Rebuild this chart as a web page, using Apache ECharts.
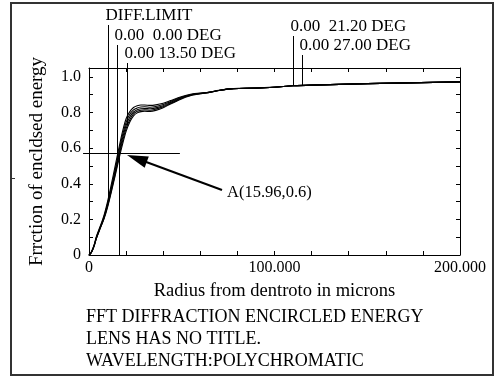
<!DOCTYPE html>
<html><head><meta charset="utf-8">
<script src="https://cdn.jsdelivr.net/npm/echarts@6/dist/echarts.min.js"></script>
<style>html,body{margin:0;padding:0;background:#fff}#c{width:495px;height:377px}</style>
</head><body><div id="c"></div>
<script>
// ---- data ----
const radius    = [0,1,2,3,4,6,8,10,12,14,16,18,20,22,24,26,28,30,33,36,40,44,48,52,56,60,65,70,78,90,100,110,120,150,200];
const diffLimit = [0,0.012,0.035,0.065,0.105,0.16,0.22,0.30,0.395,0.495,0.595,0.69,0.765,0.805,0.828,0.838,0.842,0.842,0.84,0.843,0.852,0.867,0.883,0.896,0.905,0.909,0.915,0.925,0.935,0.938,0.943,0.95,0.954,0.962,0.972];
const field0    = [0,0.011,0.032,0.062,0.1,0.155,0.212,0.288,0.378,0.475,0.575,0.67,0.745,0.79,0.815,0.826,0.831,0.832,0.83,0.834,0.845,0.862,0.879,0.893,0.903,0.908,0.914,0.924,0.934,0.937,0.942,0.95,0.954,0.962,0.972];
const field13   = [0,0.01,0.03,0.06,0.097,0.152,0.207,0.28,0.368,0.462,0.56,0.652,0.727,0.775,0.803,0.816,0.821,0.823,0.821,0.826,0.838,0.857,0.875,0.891,0.901,0.907,0.913,0.924,0.934,0.937,0.942,0.95,0.954,0.962,0.972];
const field21   = [0,0.01,0.03,0.059,0.095,0.15,0.203,0.274,0.36,0.45,0.546,0.635,0.71,0.76,0.792,0.807,0.813,0.815,0.813,0.819,0.832,0.852,0.871,0.888,0.9,0.906,0.913,0.924,0.934,0.937,0.942,0.95,0.954,0.962,0.972];
const field27   = [0,0.01,0.029,0.058,0.093,0.148,0.2,0.268,0.352,0.44,0.532,0.618,0.694,0.747,0.781,0.798,0.805,0.807,0.806,0.812,0.827,0.848,0.868,0.886,0.899,0.905,0.913,0.924,0.934,0.937,0.942,0.95,0.954,0.962,0.972];

const markerText = ['DIFF.LIMIT', '0.00  0.00 DEG', '0.00 13.50 DEG', '0.00  21.20 DEG', '0.00 27.00 DEG'];
const markerX    = [10.2, 15.1, 20.3, 110, 115];
const markerY    = [0.31, 0.525, 0.73, 0.951, 0.953];

const pointLabel = 'A(15.96,0.6)';
const pointX = 16.3, pointY = 0.575;
const crossX = [-3.2, 49];
const arrowTip  = [20.5, 0.562];
const arrowTail = [71.7, 0.365];

const xAxisName = 'Radius from dentroto in microns';
const yAxisName = 'Frrction of encldsed energy';
const footer = ['FFT DIFFRACTION ENCIRCLED ENERGY', 'LENS HAS NO TITLE.', 'WAVELENGTH:POLYCHROMATIC'];

// ---- layout / style ----
const FONT = '"Liberation Serif", "Times New Roman", serif';
const markerTop = [25, 45, 63, 36, 55];
const chart = echarts.init(document.getElementById('c'));
const lineSeries = (d) => ({
  type: 'line', xAxisIndex: 0, yAxisIndex: 0, data: radius.map((x, i) => [x, d[i]]),
  showSymbol: false, smooth: 0.3, lineStyle: {color: '#000', width: 1.1}, silent: true, z: 3
});
const crisp = v => Math.round(v) + 0.5;

const xBase = {min: 0, max: 200, interval: 20, splitLine: {show: false},
  axisLine: {onZero: false, lineStyle: {color: '#000', width: 1}},
  axisTick: {inside: true, length: 4, lineStyle: {color: '#000'}}};
const yBase = {min: 0, max: 1.05, interval: 0.1, splitLine: {show: false},
  axisLine: {onZero: false, lineStyle: {color: '#000', width: 1}},
  axisTick: {inside: true, length: 4, lineStyle: {color: '#000'}}};

chart.setOption({
  animation: false,
  backgroundColor: '#fff',
  textStyle: {fontFamily: FONT},
  grid: {left: 89, right: 35, top: 68, bottom: 122},
  xAxis: [
    Object.assign({}, xBase, {type: 'value', position: 'bottom',
      name: xAxisName, nameLocation: 'middle', nameGap: 27,
      nameTextStyle: {fontFamily: FONT, fontSize: 18.5, color: '#000'},
      axisLabel: {margin: 5, fontFamily: FONT, fontSize: 16, color: '#000',
        formatter: v => v === 0 ? '0' : (v % 100 === 0 ? v.toFixed(3) : '')}}),
    Object.assign({}, xBase, {type: 'value', position: 'top', axisLabel: {show: false}})
  ],
  yAxis: [
    Object.assign({}, yBase, {type: 'value', position: 'left',
      name: yAxisName, nameLocation: 'middle', nameGap: 42, nameRotate: 90,
      nameTextStyle: {fontFamily: FONT, fontSize: 19, color: '#000'},
      axisLabel: {margin: 8, fontFamily: FONT, fontSize: 16, color: '#000',
        formatter: v => { const k = Math.round(v * 10); return (k % 2 === 0 && k <= 10) ? (k === 0 ? '0' : (k / 10).toFixed(1)) : ''; }}}),
    Object.assign({}, yBase, {type: 'value', position: 'right', axisLabel: {show: false}})
  ],
  series: [
    lineSeries(diffLimit), lineSeries(field0), lineSeries(field13), lineSeries(field21), lineSeries(field27),
    {
      type: 'custom', xAxisIndex: 0, yAxisIndex: 0, clip: false, silent: true, z: 4,
      data: markerX.map((x, i) => [x, markerY[i]]),
      renderItem: (params, api) => {
        const i = params.dataIndex;
        const p = api.coord([api.value(0), api.value(1)]);
        const x = crisp(p[0]);
        const top = markerTop[i];
        return {type: 'group', children: [
          {type: 'line', shape: {x1: x, y1: top, x2: x, y2: p[1]}, style: {stroke: '#000', lineWidth: 1}},
          {type: 'text', style: {text: markerText[i], x: x - 3, y: top - 1, align: 'left', verticalAlign: 'bottom',
            font: '17px ' + FONT, fill: '#000'}}
        ]};
      }
    },
    {
      type: 'custom', xAxisIndex: 0, yAxisIndex: 0, clip: false, silent: true, z: 5,
      data: [[pointX, pointY]],
      renderItem: (params, api) => {
        const c = api.coord([pointX, pointY]);
        const z0 = api.coord([pointX, 0]);
        const h0 = api.coord([crossX[0], pointY]);
        const h1 = api.coord([crossX[1], pointY]);
        const t = api.coord(arrowTip);
        const s = api.coord(arrowTail);
        const dx = s[0] - t[0], dy = s[1] - t[1];
        const L = Math.sqrt(dx * dx + dy * dy);
        const ux = dx / L, uy = dy / L, nx = -uy, ny = ux;
        const bx = t[0] + ux * 21, by = t[1] + uy * 21;
        const hy = crisp(c[1]), vx = crisp(c[0]);
        return {type: 'group', children: [
          {type: 'line', shape: {x1: h0[0], y1: hy, x2: h1[0], y2: hy}, style: {stroke: '#000', lineWidth: 1}},
          {type: 'line', shape: {x1: vx, y1: hy, x2: vx, y2: z0[1]}, style: {stroke: '#000', lineWidth: 1}},
          {type: 'line', shape: {x1: bx - ux * 2, y1: by - uy * 2, x2: s[0], y2: s[1]}, style: {stroke: '#000', lineWidth: 2}},
          {type: 'polygon', shape: {points: [[t[0], t[1]], [bx + nx * 6, by + ny * 6], [bx - nx * 6, by - ny * 6]]}, style: {fill: '#000'}},
          {type: 'text', style: {text: pointLabel, x: s[0] + 5, y: s[1] + 3, align: 'left', verticalAlign: 'middle',
            font: '16.5px ' + FONT, fill: '#000'}}
        ]};
      }
    }
  ],
  graphic: [
    {type: 'rect', shape: {x: 11, y: 3, width: 482, height: 372}, style: {fill: 'transparent', stroke: '#333', lineWidth: 2}, silent: true},
    {type: 'line', shape: {x1: 11, y1: 178.5, x2: 15, y2: 178.5}, style: {stroke: '#333', lineWidth: 1}, silent: true},
    {type: 'text', left: 86, top: 308, style: {text: footer[0], font: '18px ' + FONT, fill: '#000'}, silent: true},
    {type: 'text', left: 86, top: 330, style: {text: footer[1], font: '18px ' + FONT, fill: '#000'}, silent: true},
    {type: 'text', left: 86, top: 352, style: {text: footer[2], font: '18px ' + FONT, fill: '#000'}, silent: true}
  ]
});
</script>
</body></html>
